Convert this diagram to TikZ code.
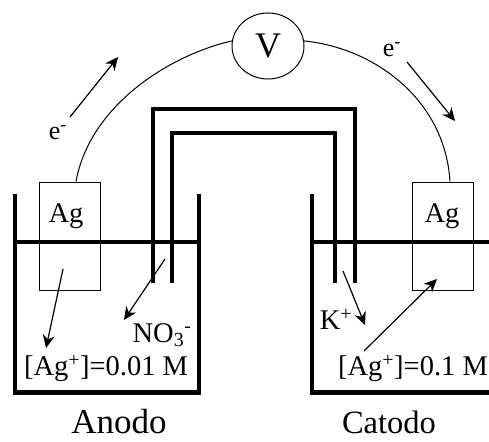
\documentclass[tikz,border=0pt]{standalone}
\usepackage{fontspec}
\setmainfont{Liberation Serif}
\usetikzlibrary{shapes.geometric,arrows.meta}
\tikzset{
  beaker/.style={line width=4.2pt,line join=miter},
  water/.style={line width=3.2pt},
  bridge/.style={line width=3.8pt,line join=miter},
  electrode/.style={draw,line width=1pt,minimum width=61pt,minimum height=108pt,inner sep=0pt},
  wire/.style={line width=1pt},
  flow/.style={line width=1.2pt,-{Stealth[length=13pt,width=12pt]}},
  lbl/.style={inner sep=0pt,font=\fontsize{28.5}{28.5}\selectfont,text=black},
  elbl/.style={inner sep=0pt,font=\fontsize{26}{26}\selectfont,text=black}
}
\begin{document}
\begin{tikzpicture}[x=1pt,y=-1pt]
\useasboundingbox (0,0) rectangle (489,441);
% beakers
\draw[beaker] (15,194) -- (15,392.5) -- (199,392.5) -- (199,194);
\draw[beaker] (312,194) -- (312,392.5) -- (489,392.5);
\draw[water] (15,242) -- (199,242);
\draw[water] (312,242) -- (489,242);
% salt bridge
\draw[bridge] (153,283) -- (153,109) -- (355,109) -- (355,283);
\draw[bridge] (172,283) -- (172,133) -- (335,133) -- (335,283);
% electrodes and voltmeter
\node[electrode] (an) at (70,236) {};
\node[electrode] (ca) at (442.5,236) {};
\node[draw,ellipse,line width=1pt,minimum width=72pt,minimum height=66pt,inner sep=0pt,fill=white,font=\fontsize{36}{36}\selectfont] (V) at (268,46) {\raisebox{1pt}{V}};
\draw[wire] ([xshift=6pt]an.north) .. controls (90,105) and (170,55) .. (V.172);
\draw[wire] (V.8) .. controls (375,48) and (445,100) .. ([xshift=7.5pt]ca.north);
% labels
\node[lbl] (agl) at (66,216) {Ag};
\node[lbl] (agr) at (442,216) {Ag};
\node[elbl] (el) at (58,133) {e\textsuperscript{-}};
\node[elbl] (er) at (392,50) {e\textsuperscript{-}};
\node[lbl] (no) at (162,335) {NO$_{\mathrm{3}}$\textsuperscript{-}};
\node[lbl] (kp) at (336,319) {K\textsuperscript{+}};
\node[lbl] (cl) at (106,368) {[Ag\textsuperscript{+}]=0.01 M};
\node[lbl] (cr) at (413,368) {[Ag\textsuperscript{+}]=0.1 M};
\node[inner sep=0pt,anchor=base,font=\fontsize{35}{35}\selectfont] (tan) at (119,433) {Anodo};
\node[inner sep=0pt,anchor=base,font=\fontsize{32.5}{32.5}\selectfont] (tca) at (389,433) {Catodo};
% arrows
\coordinate (a1) at (70,117); \coordinate (a2) at (118,57);
\coordinate (b1) at (407,62); \coordinate (b2) at (455,121);
\coordinate (c1) at (63,269); \coordinate (c2) at (46,348);
\coordinate (d1) at (165,259); \coordinate (d2) at (124,320);
\coordinate (e1) at (343,271); \coordinate (e2) at (365,325);
\coordinate (f1) at (364,351); \coordinate (f2) at (437,279);
\draw[flow] (a1) -- (a2);
\draw[flow] (b1) -- (b2);
\draw[flow] (c1) -- (c2);
\draw[flow] (d1) -- (d2);
\draw[flow] (e1) -- (e2);
\draw[flow] (f1) -- (f2);
\end{tikzpicture}
\end{document}
